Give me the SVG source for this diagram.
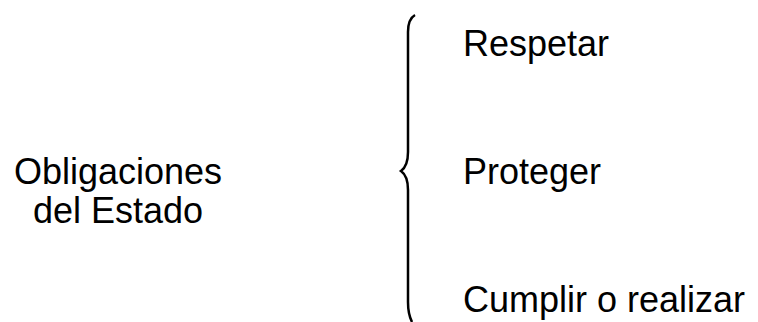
<svg xmlns="http://www.w3.org/2000/svg" width="758" height="322" viewBox="0 0 758 322">
<style>
text{font-family:"Liberation Sans",Arial,sans-serif;font-size:36px;fill:#000}
.brace{fill:none;stroke:#000;stroke-width:2.5}
</style>
<rect width="758" height="322" fill="#fff"/>
<g id="root">
<text x="118" y="184" text-anchor="middle">Obligaciones</text>
<text x="118" y="223" text-anchor="middle">del Estado</text>
</g>
<g id="connectors">
<path class="brace" d="M415,15 Q408,19 408,32 L408,152 Q408,166 401,171 Q408,176 408,190 L408,302 Q408,314 412,322"/>
</g>
<g id="n1"><text x="463" y="56">Respetar</text></g>
<g id="n2"><text x="463" y="184">Proteger</text></g>
<g id="n3"><text x="463" y="312">Cumplir o realizar</text></g>
</svg>
